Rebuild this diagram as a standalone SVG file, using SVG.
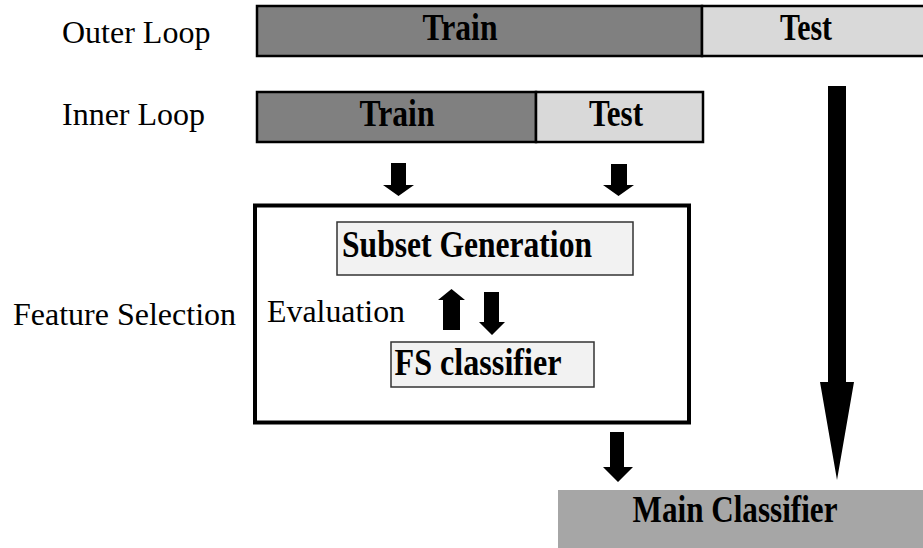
<svg xmlns="http://www.w3.org/2000/svg" width="923" height="548" viewBox="0 0 923 548">
<style>
.lbl{font-family:"Liberation Serif","Times New Roman",serif;font-size:32px;fill:#000}
.b{font-family:"Liberation Serif","Times New Roman",serif;font-size:34px;font-weight:bold;fill:#000;text-anchor:middle}
.dark{fill:#808080;stroke:#000;stroke-width:2.5}
.light{fill:#d9d9d9;stroke:#000;stroke-width:2.5}
.inbox{fill:#f2f2f2;stroke:#333;stroke-width:1.5}
.arr{fill:#000}
</style>
<rect width="923" height="548" fill="#fff"/>
<text class="lbl" x="62" y="43">Outer Loop</text>
<text class="lbl" x="62" y="125">Inner Loop</text>
<text class="lbl" x="13" y="325">Feature Selection</text>

<g id="outer-loop">
<rect class="dark" x="257" y="6" width="445" height="50"/>
<rect class="light" x="702" y="6" width="230" height="50"/>
<text class="b" transform="translate(460,40) scale(1,1.12)" textLength="75" lengthAdjust="spacingAndGlyphs">Train</text>
<text class="b" transform="translate(806,40) scale(1,1.12)" textLength="52" lengthAdjust="spacingAndGlyphs">Test</text>
</g>

<g id="inner-loop">
<rect class="dark" x="257" y="92" width="279" height="50"/>
<rect class="light" x="536" y="92" width="167" height="50"/>
<text class="b" transform="translate(397,126) scale(1,1.12)" textLength="75" lengthAdjust="spacingAndGlyphs">Train</text>
<text class="b" transform="translate(616,126) scale(1,1.12)" textLength="54" lengthAdjust="spacingAndGlyphs">Test</text>
</g>

<g id="feature-selection">
<rect x="255" y="205.5" width="434" height="217" fill="#fff" stroke="#000" stroke-width="4"/>
<text class="lbl" x="267" y="322" textLength="138" lengthAdjust="spacingAndGlyphs">Evaluation</text>
</g>

<g id="subset-generation">
<rect class="inbox" x="337" y="222" width="296" height="53"/>
<text class="b" transform="translate(467,257) scale(1,1.1)" textLength="250" lengthAdjust="spacingAndGlyphs">Subset Generation</text>
</g>

<g id="fs-classifier">
<rect class="inbox" x="391" y="342" width="203" height="45"/>
<text class="b" transform="translate(478,375) scale(1,1.1)" textLength="167" lengthAdjust="spacingAndGlyphs">FS classifier</text>
</g>

<g id="main-classifier">
<rect x="558" y="490" width="370" height="60" fill="#a6a6a6"/>
<text class="b" transform="translate(735,522) scale(1,1.1)" textLength="205" lengthAdjust="spacingAndGlyphs">Main Classifier</text>
</g>

<g id="connectors">
<polygon class="arr" points="391,163 406,163 406,185 414,185 398.5,196 383,185 391,185"/>
<polygon class="arr" points="611,164 627,164 627,185 634,185 618.5,196 603,185 611,185"/>
<polygon class="arr" points="443,330 460,330 460,300 465,300 451.5,289 438,300 443,300"/>
<polygon class="arr" points="484,292 499,292 499,322 505,322 492,335 479,322 484,322"/>
<polygon class="arr" points="610,432 624,432 624,467 633,467 618,482 603,467 610,467"/>
<polygon class="arr" points="828,86 846,86 846,382 854,382 837,480 820,382 828,382"/>
</g>
</svg>
